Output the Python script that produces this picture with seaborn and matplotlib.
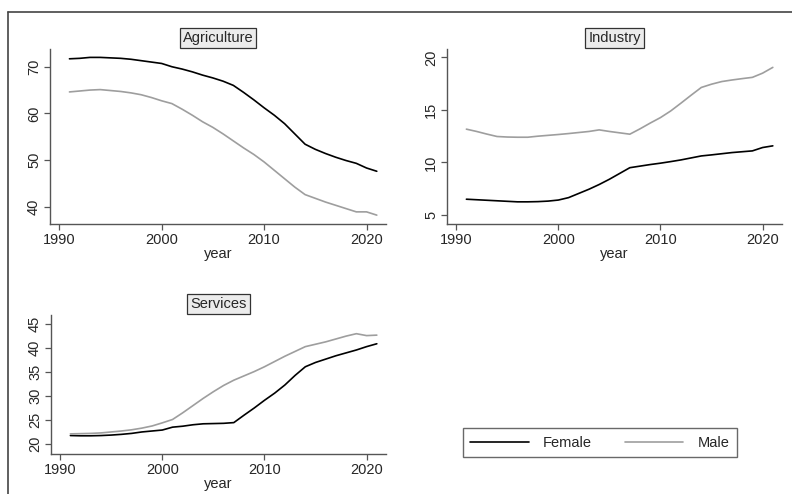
import matplotlib
matplotlib.use("Agg")
import matplotlib.pyplot as plt
from matplotlib.lines import Line2D
import seaborn as sns
import pandas as pd

years = list(range(1991, 2022))

agri_female = [71.7, 71.8, 72.0, 72.0, 71.9, 71.8, 71.6, 71.3, 71.0, 70.7,
               70.0, 69.5, 68.9, 68.2, 67.6, 66.9, 66.0, 64.5, 62.9, 61.2,
               59.6, 57.8, 55.6, 53.4, 52.3, 51.4, 50.6, 49.9, 49.3, 48.3, 47.6]
agri_male = [64.6, 64.8, 65.0, 65.1, 64.9, 64.7, 64.4, 64.0, 63.4, 62.7,
             62.1, 60.9, 59.6, 58.2, 57.0, 55.6, 54.1, 52.6, 51.2, 49.6,
             47.8, 46.0, 44.2, 42.6, 41.8, 41.0, 40.3, 39.6, 38.9, 38.9, 38.2]

ind_female = [6.5, 6.45, 6.4, 6.35, 6.3, 6.25, 6.25, 6.27, 6.32, 6.42,
              6.65, 7.05, 7.45, 7.9, 8.4, 8.95, 9.5, 9.65, 9.8, 9.93,
              10.08, 10.24, 10.43, 10.62, 10.72, 10.83, 10.94, 11.02, 11.1, 11.42, 11.58]
ind_male = [13.17, 12.95, 12.7, 12.47, 12.42, 12.4, 12.4, 12.5, 12.58, 12.66,
            12.75, 12.85, 12.95, 13.1, 12.95, 12.82, 12.69, 13.2, 13.75, 14.27,
            14.9, 15.64, 16.4, 17.14, 17.45, 17.7, 17.85, 17.98, 18.1, 18.5, 19.05]

serv_female = [21.75, 21.7, 21.7, 21.75, 21.85, 22.0, 22.2, 22.5, 22.7, 22.9,
               23.5, 23.7, 24.0, 24.2, 24.25, 24.3, 24.45, 26.0, 27.5, 29.1,
               30.6, 32.3, 34.3, 36.1, 37.0, 37.7, 38.4, 39.0, 39.6, 40.3, 40.9]
serv_male = [22.1, 22.15, 22.2, 22.3, 22.5, 22.7, 22.95, 23.3, 23.75, 24.4,
             25.1, 26.5, 28.0, 29.5, 30.9, 32.2, 33.3, 34.2, 35.1, 36.1,
             37.2, 38.3, 39.3, 40.3, 40.8, 41.3, 41.9, 42.5, 43.0, 42.6, 42.7]

sectors = ["Agriculture", "Industry", "Services"]
sexes = ["Female", "Male"]
series = {
    "Agriculture": (agri_female, agri_male),
    "Industry": (ind_female, ind_male),
    "Services": (serv_female, serv_male),
}
yticks = {
    "Agriculture": [40, 50, 60, 70],
    "Industry": [5, 10, 15, 20],
    "Services": [20, 25, 30, 35, 40, 45],
}
xticks = [1990, 2000, 2010, 2020]

rows = []
for sec in sectors:
    for sex, vals in zip(sexes, series[sec]):
        for y, v in zip(years, vals):
            rows.append({"sector": sec, "sex": sex, "year": y, "value": v})
df = pd.DataFrame(rows)

sns.set_theme(style="white")
plt.rcParams["font.family"] = ["Liberation Sans", "DejaVu Sans"]

W, H = 792, 494
fig = plt.figure(figsize=(W / 100, H / 100), dpi=100)
fig.patch.set_facecolor("white")

def rect(l, t, r, b):
    return [l / W, (H - b) / H, (r - l) / W, (b - t) / H]

boxes = {
    "Agriculture": rect(50, 49, 386, 224),
    "Industry": rect(447, 49, 782, 224),
    "Services": rect(51, 315, 386, 454),
}
ylims = {
    "Agriculture": (36.3, 73.8),
    "Industry": (4.14, 20.8),
    "Services": (17.9, 46.9),
}
palette = {"Female": "#000000", "Male": "#9e9e9e"}
spine_col = "#555555"

for sec in sectors:
    ax = fig.add_axes(boxes[sec])
    sns.lineplot(data=df[df.sector == sec], x="year", y="value", hue="sex",
                 hue_order=sexes, palette=palette, linewidth=1.2, ax=ax,
                 legend=False)
    ax.set_xlim(1989.1, 2021.9)
    ax.set_ylim(*ylims[sec])
    ax.set_xticks(xticks)
    ax.set_yticks(yticks[sec])
    ax.set_yticklabels([str(t) for t in yticks[sec]], rotation=90, va="center")
    ax.set_ylabel("")
    ax.set_xlabel("year", fontsize=10.5, labelpad=0)
    for s in ["top", "right"]:
        ax.spines[s].set_visible(False)
    for s in ["left", "bottom"]:
        ax.spines[s].set_color(spine_col)
        ax.spines[s].set_linewidth(1.0)
    ax.tick_params(axis="both", direction="out", length=4.5, width=0.9,
                   color=spine_col, labelsize=10.5, pad=2,
                   bottom=True, left=True)
    ax.set_facecolor("white")
    ax.set_title(sec, fontsize=10.5, pad=5,
                 bbox=dict(facecolor="#ececec", edgecolor="#333333",
                           linewidth=0.9, boxstyle="square,pad=0.2"))

# legend
handles = [Line2D([], [], color=palette[s], linewidth=1.2) for s in sexes]
fig.legend(handles, sexes, ncol=2, mode="expand",
           bbox_to_anchor=(463 / W, (H - 457) / H, 274 / W, 28 / H),
           loc="lower left", frameon=True, fontsize=10.5, handlelength=4.0,
           handletextpad=1.0, borderaxespad=0, fancybox=False,
           edgecolor="#444444", borderpad=0.5)
leg = fig.legends[0]
leg.get_frame().set_linewidth(1.0)

# outer frame (cropped border)
fig.add_artist(Line2D([8 / W, 1.0], [(H - 12) / H, (H - 12) / H],
                      transform=fig.transFigure, color="#444444", linewidth=1.2))
fig.add_artist(Line2D([8 / W, 8 / W], [0, (H - 12) / H],
                      transform=fig.transFigure, color="#444444", linewidth=1.2))

fig.savefig("out.png", dpi=100)
